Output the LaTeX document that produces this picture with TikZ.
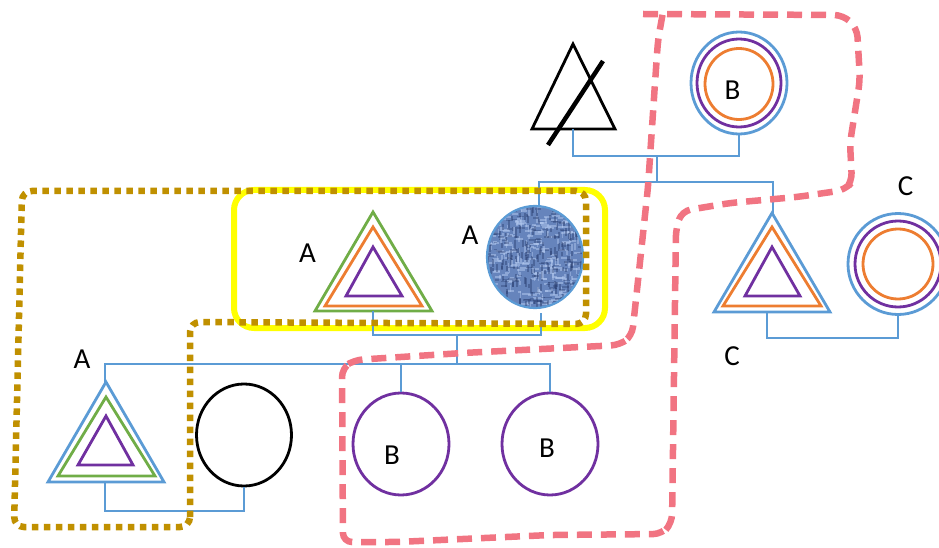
\documentclass[tikz,border=0pt]{standalone}
\usepackage{fontspec}
\setmainfont{Carlito}
\usetikzlibrary{shapes.geometric}
\definecolor{cblue}{RGB}{91,155,213}
\definecolor{cgreen}{RGB}{112,173,71}
\definecolor{corange}{RGB}{237,125,49}
\definecolor{cpurple}{RGB}{112,48,160}
\definecolor{cgold}{RGB}{192,144,0}
\definecolor{cpink}{RGB}{241,116,130}
\definecolor{cyellow}{RGB}{255,255,0}
\definecolor{ctex}{RGB}{102,132,188}
\definecolor{ctexlight}{RGB}{180,202,240}
\definecolor{ctexdark}{RGB}{35,55,105}
\begin{document}
\begin{tikzpicture}[x=1pt,y=-1pt,
  conn/.style={draw=cblue, line width=1.3},
  tri/.style={line width=2.8, line join=miter},
  ring/.style={ellipse, inner sep=0, line width=2.8},
  lab/.style={font=\fontsize{29}{33}\selectfont, inner sep=0},
  golddot/.style={draw=cgold, line width=6.5, dash pattern=on 6.5 off 5.5, rounded corners=10},
  pinkdash/.style={draw=cpink, line width=6.5, dash pattern=on 15 off 9, rounded corners=9}]
\useasboundingbox (0,0) rectangle (939,548);

% yellow group box
\draw[cyellow, line width=6, rounded corners=20] (234,190) rectangle (605,328);

% crossed triangle
\draw[black, line width=2.8, line join=miter] (573,44) -- (532,129) -- (615,129) -- cycle;
\coordinate (xs1) at (603,61);
\coordinate (xs2) at (548,145);
\draw[black, line width=4.5] (xs1) -- (xs2);
\coordinate (xt) at (573,129);

% top B circle
\node[ring, draw=cblue, minimum width=96, minimum height=102] (bt) at (739,83) {};
\node[ring, draw=cpurple, minimum width=84, minimum height=88] (btp) at (739,83) {};
\node[ring, draw=corange, minimum width=68, minimum height=71] (bto) at (739,84) {};
\node[lab] (lbt) at (732.5,90) {B};

% triangle A (yellow group)
\draw[tri, draw=cgreen] (373,212) -- (315,311) -- (432,311) -- cycle;
\draw[tri, draw=corange] (373,227) -- (325,306) -- (422,306) -- cycle;
\draw[tri, draw=cpurple] (373,247) -- (346,296) -- (402,296) -- cycle;
\node[lab] (lta) at (307.5,253.5) {A};

% textured circle
\fill[ctex] (535,257) ellipse [x radius=48pt, y radius=51pt];
\begin{scope}
\clip (535,257) ellipse [x radius=48pt, y radius=51pt];
\pgfmathsetseed{42}
\foreach \i in {1,...,220}{
  \pgfmathsetmacro\ax{535+50*rand}
  \pgfmathsetmacro\ay{257+53*rand}
  \pgfmathsetmacro\ln{3+6*rnd}
  \draw[ctexlight, opacity=0.5, line width=2] (\ax,\ay) -- ++(\ln,0);
}
\foreach \i in {1,...,200}{
  \pgfmathsetmacro\ax{535+50*rand}
  \pgfmathsetmacro\ay{257+53*rand}
  \pgfmathsetmacro\ln{3+6*rnd}
  \draw[ctexdark, opacity=0.4, line width=2] (\ax,\ay) -- ++(0,\ln);
}
\foreach \i in {1,...,150}{
  \pgfmathsetmacro\ax{535+50*rand}
  \pgfmathsetmacro\ay{257+53*rand}
  \pgfmathsetmacro\ln{3+5*rnd}
  \draw[ctexlight, opacity=0.45, line width=1.6] (\ax,\ay) -- ++(0,\ln);
}
\foreach \i in {1,...,130}{
  \pgfmathsetmacro\ax{535+50*rand}
  \pgfmathsetmacro\ay{257+53*rand}
  \pgfmathsetmacro\ln{3+5*rnd}
  \draw[ctexdark, opacity=0.35, line width=1.6] (\ax,\ay) -- ++(\ln,0);
}
\end{scope}
\node[ellipse, inner sep=0, draw=cblue, line width=2.2, minimum width=96, minimum height=102] (tex) at (535,257) {};
\node[lab] (ltex) at (470,235) {A};

% lower-left triangle A
\draw[tri, draw=cblue] (106,382) -- (48,482) -- (164,482) -- cycle;
\draw[tri, draw=cgreen] (106,397) -- (58,476) -- (155,476) -- cycle;
\draw[tri, draw=cpurple] (106,416) -- (78,465) -- (133,465) -- cycle;
\node[lab] (lla) at (82,359) {A};

% black circle
\node[ring, draw=black, minimum width=95, minimum height=102] (blk) at (244,435) {};

% purple B circles
\node[ring, draw=cpurple, minimum width=96, minimum height=102] (bb1) at (401,444) {};
\node[ring, draw=cpurple, minimum width=96, minimum height=102] (bb2) at (550,444) {};
\node[lab] (lbb1) at (392,455) {B};
\node[lab] (lbb2) at (547,448) {B};

% right triangle C
\draw[tri, draw=cblue] (772,213) -- (714,312) -- (830,312) -- cycle;
\draw[tri, draw=corange] (772,227) -- (723,306) -- (821,306) -- cycle;
\draw[tri, draw=cpurple] (772,247) -- (745,296) -- (800,296) -- cycle;
\node[lab] (ltc) at (732,356) {C};

% right circle C
\node[ring, draw=cblue, minimum width=100, minimum height=101] (cc) at (898,264) {};
\node[ring, draw=cpurple, minimum width=86, minimum height=86] (ccp) at (898,264) {};
\node[ring, draw=corange, minimum width=70, minimum height=70] (cco) at (898,264) {};
\node[lab] (lcc) at (905.5,186) {C};

% connectors
\coordinate (j1) at (657,156);
\coordinate (j2) at (657,182);
\coordinate (texN) at (539,206);
\coordinate (tcA) at (773,213);
\draw[conn] (xt) |- (j1) -| (bt.south);
\draw[conn] (j1) -- (j2);
\draw[conn] (texN) |- (j2) -| (tcA);

\coordinate (taB) at (373,311);
\coordinate (texS) at (541,313);
\coordinate (j3) at (457,335);
\coordinate (j4) at (457,364);
\coordinate (tlA) at (105,382);
\draw[conn] (taB) |- (j3) -| (texS);
\draw[conn] (j3) -- (j4);
\draw[conn] (tlA) |- (j4) -| (bb2.north);
\draw[conn] (j4) -| (bb1.north);

\coordinate (tlB) at (105,482);
\coordinate (j5) at (170,511);
\draw[conn] (tlB) |- (j5) -| (blk.south);

\coordinate (tcB) at (767,312);
\coordinate (j6) at (830,338);
\draw[conn] (tcB) |- (j6) -| (cc.south);

% gold dotted grouping
\draw[golddot] (190,527) -- (190,322) -- (586,324) -- (586,191) -- (22,191) -- (14,527) -- cycle;

% pink dashed grouping
\draw[pinkdash] (643,14) -- (843,15) -- (857,28) -- (860,80) -- (850,143) -- (852,182) -- (845,190)
  -- (797,197) -- (730,203) -- (682,211) -- (676,228) -- (672,523) -- (662,534)
  -- (550,535) -- (397,542) -- (343,542) -- (342,368) -- (354,360) -- (463,353)
  -- (620,345) -- (632,336) -- (637,290) -- (648,187) -- (655,83) -- (658,40) -- (663,12);
\end{tikzpicture}
\end{document}
